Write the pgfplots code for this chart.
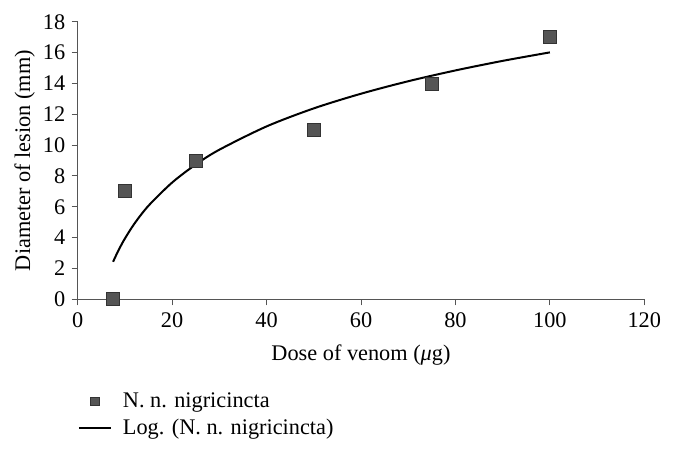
\documentclass[border=0pt]{standalone}
\usepackage{fontspec}
\setmainfont{Liberation Serif}
\usepackage{pgfplots}
\pgfplotsset{compat=1.18}
\definecolor{mk}{HTML}{555555}
\definecolor{axc}{HTML}{555555}
\pgfplotsset{
  mklegend/.style={legend image code/.code={\draw[##1, mark size=4.2pt] plot coordinates {(16pt,0pt)};}},
  lnlegend/.style={legend image code/.code={\draw[##1] (0pt,0pt) -- (32pt,0pt);}},
}
\begin{document}
\begin{tikzpicture}[font=\fontsize{22.3}{26}\selectfont]
\begin{axis}[
  scale only axis, width=566.6pt, height=277.6pt,
  xmin=0, xmax=120, ymin=0, ymax=18,
  xtick={0,20,...,120}, ytick={0,2,...,18},
  axis lines=left, axis line style={-, draw=axc, line width=0.9pt},
  tick style={draw=axc, line width=0.9pt},
  major tick length=6pt, tick align=outside,
  /pgf/number format/assume math mode=true,
  xticklabel style={yshift=-4pt},
  yticklabel style={xshift=-3pt},
  xlabel={Dose of venom ({\itshape μ}g)},
  ylabel={Diameter of lesion (mm)},
  xlabel style={at={(axis description cs:0.5,-0.2007)}, anchor=center},
  ylabel style={at={(axis description cs:-0.0935,0.5)}, anchor=center},
  clip=false,
  legend style={at={(axis description cs:0,-0.33)}, anchor=north west, draw=none, fill=none, row sep=6pt, inner sep=0pt, nodes={inner sep=2pt},
    /tikz/every odd column/.append style={column sep=9pt}},
  legend cell align=left,
]
\coordinate (O) at (rel axis cs:0,0);
\addplot[only marks, mark=square*, mark size=6.5pt, mark options={fill=mk, draw=black!80, line width=0.7pt}, mklegend]
  coordinates {(7.5,0) (10,7) (25,9) (50,11) (75,14) (100,17)};
\addlegendentry{N. n. nigricincta}
\addplot[black, line width=2pt, smooth, no marks, lnlegend]
  coordinates {(7.5,2.43) (8,2.77) (9,3.39) (10,3.94) (12,4.90) (15,6.07) (20,7.57) (25,8.74) (30,9.70) (40,11.21) (50,12.38) (60,13.33) (70,14.14) (80,14.84) (90,15.46) (100,16.01)};
\addlegendentry{Log. (N. n. nigricincta)}
\end{axis}
\pgfresetboundingbox
\path (O) ++(-77.7pt,-153.7pt) rectangle ++(674pt,453pt);
\end{tikzpicture}
\end{document}
